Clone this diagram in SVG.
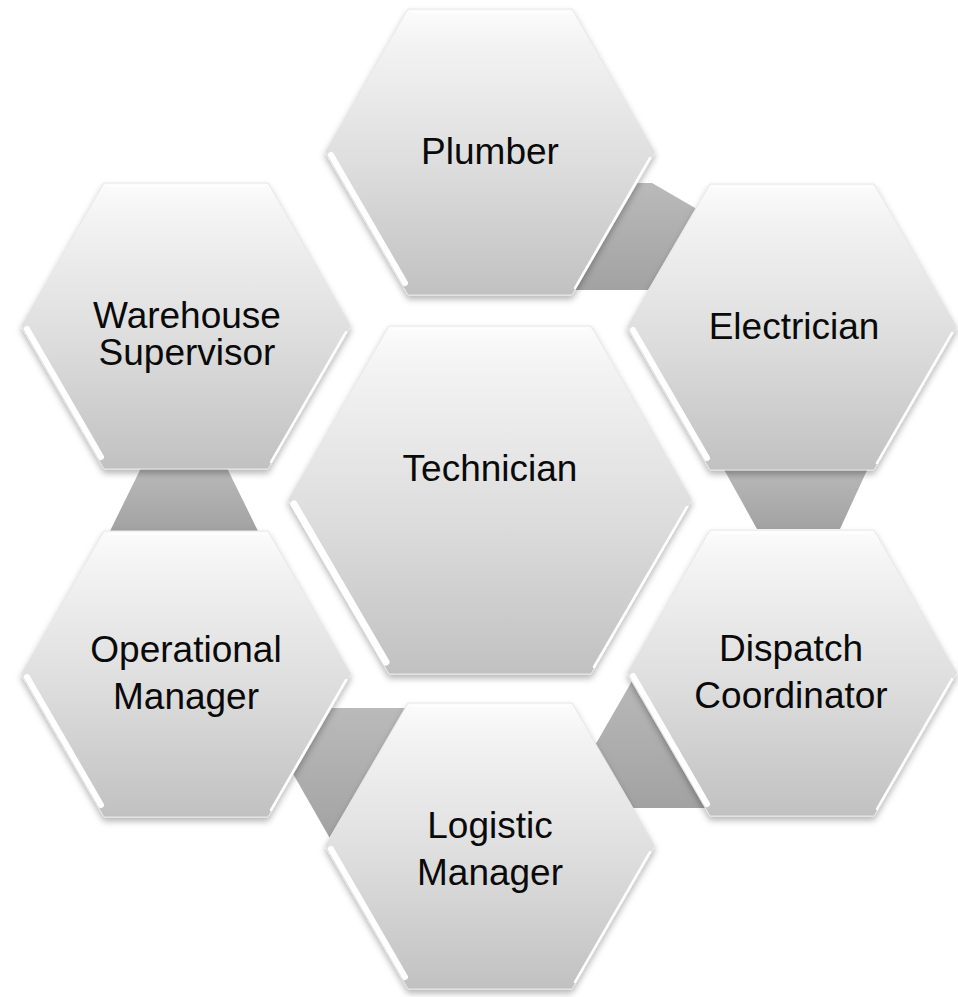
<svg xmlns="http://www.w3.org/2000/svg" xmlns:xlink="http://www.w3.org/1999/xlink" width="958" height="997" viewBox="0 0 958 997">
<style>
  .lbl { font-family: "Liberation Sans", Arial, sans-serif; font-size: 37px; fill: #0a0a0a; text-anchor: middle; }
  .conn { fill: url(#gConn); }
  .hl { stroke: #ffffff; stroke-linecap: round; fill: none; }
</style>
<defs>
  <linearGradient id="gHex" x1="0" y1="0" x2="0" y2="1">
    <stop offset="0" stop-color="#fcfcfc"/>
    <stop offset="0.12" stop-color="#f3f3f3"/>
    <stop offset="0.55" stop-color="#dddddd"/>
    <stop offset="1" stop-color="#c1c1c1"/>
  </linearGradient>
  <linearGradient id="gConn" x1="0" y1="0" x2="0" y2="1">
    <stop offset="0" stop-color="#bababa"/>
    <stop offset="1" stop-color="#a2a2a2"/>
  </linearGradient>
  <filter id="shadow" x="-10%" y="-10%" width="120%" height="125%">
    <feDropShadow dx="0" dy="4" stdDeviation="3" flood-color="#000" flood-opacity="0.28"/>
  </filter>
  <g id="hexS">
    <polygon points="-165,0 -82,-143 82,-143 165,0 82,143 -82,143" fill="url(#gHex)" stroke="#e6e6e6" stroke-width="1" filter="url(#shadow)"/>
    <line class="hl" x1="-159" y1="3" x2="-85" y2="131" stroke-width="6"/>
    <line class="hl" x1="160" y1="6" x2="85" y2="136" stroke-width="2.5"/>
    <line class="hl" x1="-78" y1="-140" x2="78" y2="-140" stroke-width="2" opacity="0.8"/>
  </g>
  <g id="hexL">
    <polygon points="-202,0 -101,-174 101,-174 202,0 101,174 -101,174" fill="url(#gHex)" stroke="#e6e6e6" stroke-width="1" filter="url(#shadow)"/>
    <line class="hl" x1="-196" y1="4" x2="-104" y2="162" stroke-width="7"/>
    <line class="hl" x1="197" y1="7" x2="104" y2="167" stroke-width="2.5"/>
    <line class="hl" x1="-96" y1="-171" x2="96" y2="-171" stroke-width="2" opacity="0.8"/>
  </g>
</defs>
<g id="connectors">
  <polygon class="conn" points="600,183 652,183 702,212 702,290 560,290"/>
  <polygon class="conn" points="722,466 869,466 840,529 757,529"/>
  <polygon class="conn" points="640,672 632,681 590,754 600,808 720,808"/>
  <polygon class="conn" points="310,708 406,708 332,842 292,772"/>
  <polygon class="conn" points="142,466 226,466 258,531 110,531"/>
</g>
<g id="node-plumber">
  <use xlink:href="#hexS" transform="translate(490,152)"/>
  <text class="lbl" x="490" y="164">Plumber</text>
</g>
<g id="node-electrician">
  <use xlink:href="#hexS" transform="translate(792,327)"/>
  <text class="lbl" x="794" y="339">Electrician</text>
</g>
<g id="node-dispatch">
  <use xlink:href="#hexS" transform="translate(792,673)"/>
  <text class="lbl" x="791" y="661">Dispatch</text>
  <text class="lbl" x="791" y="708">Coordinator</text>
</g>
<g id="node-logistic">
  <use xlink:href="#hexS" transform="translate(490,846)"/>
  <text class="lbl" x="490" y="838">Logistic</text>
  <text class="lbl" x="490" y="885">Manager</text>
</g>
<g id="node-operational">
  <use xlink:href="#hexS" transform="translate(186,674)"/>
  <text class="lbl" x="186" y="662">Operational</text>
  <text class="lbl" x="186" y="709">Manager</text>
</g>
<g id="node-warehouse">
  <use xlink:href="#hexS" transform="translate(186,326)"/>
  <text class="lbl" x="187" y="328">Warehouse</text>
  <text class="lbl" x="187" y="365">Supervisor</text>
</g>
<g id="node-technician">
  <use xlink:href="#hexL" transform="translate(490,500)"/>
  <text class="lbl" x="490" y="481">Technician</text>
</g>
</svg>
